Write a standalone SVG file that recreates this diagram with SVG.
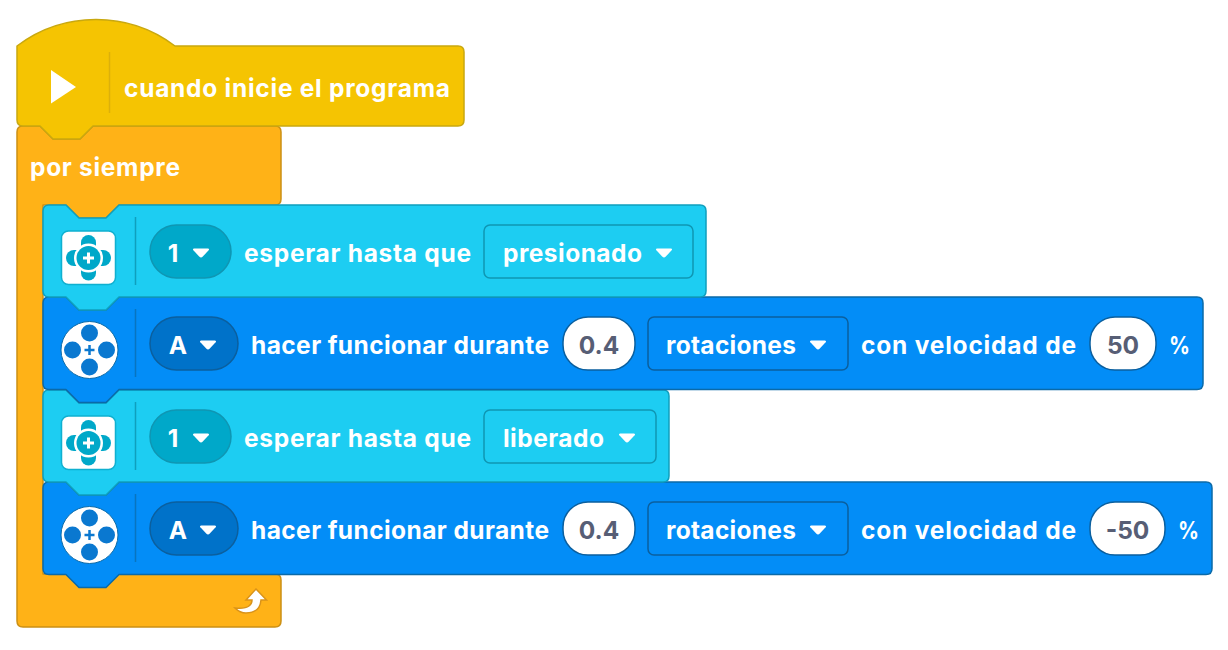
<svg xmlns="http://www.w3.org/2000/svg" width="1228" height="650" viewBox="0 0 1228 650">
<style>
text{font-family:"Inter","Noto Sans","Liberation Sans",sans-serif;font-weight:700;font-size:24.5px;fill:#fff}
.val{fill:#575e75;text-anchor:middle}
.mid{text-anchor:middle}
.cy{fill:#1dcdf2;stroke:#0f9fbd;stroke-width:1.5;stroke-linejoin:round}
.bl{fill:#038df7;stroke:#0b6aa8;stroke-width:1.5;stroke-linejoin:round}
.sepc{stroke:#0f9fbd;stroke-width:1.5}
.sepb{stroke:#0b6aa8;stroke-width:1.5;opacity:.7}
.pc{fill:#00a8c9;stroke:#0f96b3;stroke-width:1.5}
.pb{fill:#0072c9;stroke:#0b5f9e;stroke-width:1.5}
.dc{fill:#1dcdf2;stroke:#0f96b3;stroke-width:1.5}
.db{fill:#038df7;stroke:#0b5f9e;stroke-width:1.5}
.pw{fill:#fff;stroke:#0b5f9e;stroke-width:1.5}
</style>
<defs>
<path id="tri" d="M-6.800-4.500H6.800Q8.800-4.500 7.600-2.800L1.800 3.600Q0 5.400-1.800 3.600L-7.600-2.800Q-8.800-4.500-6.800-4.500Z" fill="#fff"/>
<g id="sensor">
<rect x="-27" y="-27" width="54" height="53.5" rx="7" fill="#fff" stroke="#0fb0d0" stroke-width="1.5"/>
<rect x="-7.500" y="-23" width="15" height="45.500" rx="7.500" fill="#00a8c9"/>
<rect x="-22.500" y="-8" width="45" height="16" rx="8" fill="#00a8c9"/>
<circle r="14.500" fill="#fff"/>
<circle r="12" fill="#00a8c9"/>
<path d="M-5.500 0H5.500M0-5.500V5.500" stroke="#fff" stroke-width="3"/>
</g>
<g id="motor">
<circle r="28.500" fill="#fff" stroke="#0b6aa8" stroke-width="1"/>
<g fill="#0a78d0"><circle cy="-17" r="8.500"/><circle cy="17" r="8.500"/><circle cx="-17" r="8.500"/><circle cx="17" r="8.500"/></g>
<path d="M-5 0H5M0-5V5" stroke="#0a78d0" stroke-width="2.500"/>
</g>
</defs>
<rect width="1228" height="650" fill="#fff"/>

<g id="forever">
<path d="M23 126H40L53 139H80L93 126H275Q281 126 281 132V199Q281 205 275 205H119L106 218H79L66 205H43V574H66L79 587H106L119 574H275Q281 574 281 580V621Q281 627 275 627H23Q17 627 17 621V132Q17 126 23 126Z" fill="#ffb217" stroke="#cc9014" stroke-width="1.5" stroke-linejoin="round"/>
<text x="30" y="176" textLength="150" lengthAdjust="spacing">por siempre</text>
<path d="M256 589L266.500 600H261Q260 613 246 613Q240 613 235 608Q245 609 249 606Q252 604 252 600H246Z" fill="#fff" stroke="#d9931a" stroke-width="1.5"/>
</g>

<g id="hat">
<path d="M17 46A131 131 0 0 1 175 46H458Q464 46 464 52V120Q464 126 458 126H93L80 139H53L40 126H23Q17 126 17 120Z" fill="#f5c402" stroke="#c9a80f" stroke-width="1.5" stroke-linejoin="round"/>
<path d="M109.500 52V113" stroke="#dcb00a" stroke-width="1.5"/>
<path d="M51 70L76 87 51 103.500Z" fill="#fff"/>
<text x="124" y="97" textLength="326" lengthAdjust="spacing">cuando inicie el programa</text>
</g>

<g id="motor2">
<path class="bl" d="M49 482H66L79 495H106L119 482H1206Q1212 482 1212 488V568.500Q1212 574.500 1206 574.500H119L106 587.500H79L66 574.500H49Q43 574.500 43 568.500V488Q43 482 49 482Z"/>
<path class="sepb" d="M135.500 494V562"/>
<use href="#motor" x="89.500" y="535"/>
<rect class="pb" x="150" y="502" width="88" height="53" rx="26.500"/>
<text class="mid" x="178" y="539">A</text><use href="#tri" x="208" y="530"/>
<text x="251" y="539" textLength="298" lengthAdjust="spacing">hacer funcionar durante</text>
<rect class="pw" x="563" y="502" width="72" height="53" rx="25"/>
<text class="val" x="599" y="539">0.4</text>
<rect class="db" x="648" y="502" width="200" height="53" rx="6"/>
<text x="666" y="539" textLength="130" lengthAdjust="spacing">rotaciones</text><use href="#tri" x="818" y="530"/>
<text x="861" y="539" textLength="215" lengthAdjust="spacing">con velocidad de</text>
<rect class="pw" x="1090" y="502" width="75" height="53" rx="25"/>
<text class="val" x="1127.500" y="539">-50</text>
<text x="1178" y="539" textLength="21" lengthAdjust="spacingAndGlyphs">%</text>
</g>

<g id="wait2">
<path class="cy" d="M49 390H66L79 403H106L119 390H663Q669 390 669 396V476Q669 482 663 482H119L106 495H79L66 482H49Q43 482 43 476V396Q43 390 49 390Z"/>
<path class="sepc" d="M135.500 402V470"/>
<use href="#sensor" x="88.500" y="443"/>
<rect class="pc" x="150" y="410" width="81" height="53" rx="26.500"/>
<text class="mid" x="173" y="447">1</text><use href="#tri" x="201" y="438"/>
<text x="244" y="447" textLength="227" lengthAdjust="spacing">esperar hasta que</text>
<rect class="dc" x="484" y="410" width="172" height="53" rx="6"/>
<text x="503" y="447" textLength="101" lengthAdjust="spacing">liberado</text><use href="#tri" x="627" y="438"/>
</g>

<g id="motor1">
<path class="bl" d="M49 297H66L79 310H106L119 297H1197Q1203 297 1203 303V383.500Q1203 389.500 1197 389.500H119L106 402.500H79L66 389.500H49Q43 389.500 43 383.500V303Q43 297 49 297Z"/>
<path class="sepb" d="M135.500 309V377"/>
<use href="#motor" x="89.500" y="350"/>
<rect class="pb" x="150" y="317" width="88" height="53" rx="26.500"/>
<text class="mid" x="178" y="354">A</text><use href="#tri" x="208" y="345"/>
<text x="251" y="354" textLength="298" lengthAdjust="spacing">hacer funcionar durante</text>
<rect class="pw" x="563" y="317" width="72" height="53" rx="25"/>
<text class="val" x="599" y="354">0.4</text>
<rect class="db" x="648" y="317" width="200" height="53" rx="6"/>
<text x="666" y="354" textLength="130" lengthAdjust="spacing">rotaciones</text><use href="#tri" x="818" y="345"/>
<text x="861" y="354" textLength="215" lengthAdjust="spacing">con velocidad de</text>
<rect class="pw" x="1090" y="317" width="66" height="53" rx="25"/>
<text class="val" x="1123" y="354">50</text>
<text x="1169" y="354" textLength="21" lengthAdjust="spacingAndGlyphs">%</text>
</g>

<g id="wait1">
<path class="cy" d="M49 205H66L79 218H106L119 205H700Q706 205 706 211V291Q706 297 700 297H119L106 310H79L66 297H49Q43 297 43 291V211Q43 205 49 205Z"/>
<path class="sepc" d="M135.500 217V285"/>
<use href="#sensor" x="88.500" y="258"/>
<rect class="pc" x="150" y="225" width="81" height="53" rx="26.500"/>
<text class="mid" x="173" y="262">1</text><use href="#tri" x="201" y="253"/>
<text x="244" y="262" textLength="227" lengthAdjust="spacing">esperar hasta que</text>
<rect class="dc" x="484" y="225" width="209" height="53" rx="6"/>
<text x="503" y="262" textLength="139" lengthAdjust="spacing">presionado</text><use href="#tri" x="664" y="253"/>
</g>
</svg>
